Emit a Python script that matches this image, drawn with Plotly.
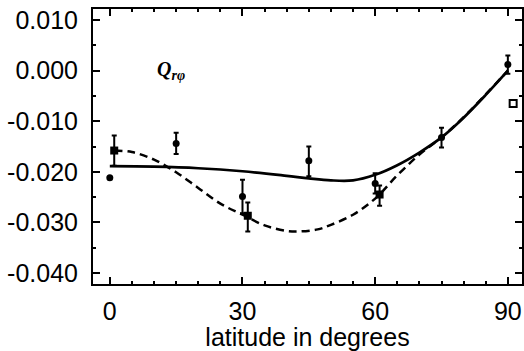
import plotly.graph_objects as go

# ---- data ----
circ_x = [0, 15, 30, 45, 60, 75, 90]
circ_y = [-0.0212, -0.0144, -0.0249, -0.0178, -0.0223, -0.0132, 0.0012]
circ_ep = [0, 0.0021, 0.0033, 0.0028, 0.0020, 0.0019, 0.0018]
circ_em = [0, 0.0021, 0.0033, 0.0031, 0.0020, 0.0020, 0.0018]

sq_x = [1, 31.2, 61]
sq_y = [-0.0158, -0.0287, -0.0245]
sq_ep = [0.0030, 0.0026, 0.0018]
sq_em = [0.0030, 0.0031, 0.0022]

open_x = [91.2]
open_y = [-0.0065]

solid_x = [0, 10, 20, 30, 40, 45, 50, 55, 60, 65, 70, 75, 80, 85, 90]
solid_y = [-0.0189, -0.0190, -0.0193, -0.0199, -0.0208, -0.0213, -0.0217, -0.0217,
           -0.0206, -0.0187, -0.0162, -0.0132, -0.0093, -0.0048, 0.0000]

dash_x = [1, 5, 10, 15, 20, 25, 30, 35, 40, 43, 47, 50, 55, 60, 65, 70, 75, 80, 85, 90]
dash_y = [-0.0158, -0.0161, -0.0176, -0.0201, -0.0232, -0.0263, -0.0285, -0.0306,
          -0.0317, -0.0318, -0.0314, -0.0305, -0.0285, -0.0253, -0.0207, -0.0166,
          -0.0132, -0.0092, -0.0047, 0.0000]

x_ticks = [0, 30, 60, 90]
y_ticks = [0.010, 0.000, -0.010, -0.020, -0.030, -0.040]
y_labels = ["0.010", "0.000", "-0.010", "-0.020", "-0.030", "-0.040"]

FONT = "Liberation Sans, Arial, Helvetica, sans-serif"

fig = go.Figure()
fig.add_trace(go.Scatter(x=solid_x, y=solid_y, mode="lines", line=dict(color="black", width=2.7, shape="spline"),
                         showlegend=False, hoverinfo="skip"))
fig.add_trace(go.Scatter(x=dash_x, y=dash_y, mode="lines",
                         line=dict(color="black", width=2.5, dash="8px,5px", shape="spline"),
                         showlegend=False, hoverinfo="skip"))
fig.add_trace(go.Scatter(x=circ_x, y=circ_y, mode="markers",
                         marker=dict(symbol="circle", size=7, color="black"),
                         error_y=dict(type="data", symmetric=False, array=circ_ep, arrayminus=circ_em,
                                      color="black", thickness=2, width=2.5),
                         showlegend=False))
fig.add_trace(go.Scatter(x=sq_x, y=sq_y, mode="markers",
                         marker=dict(symbol="square", size=8, color="black"),
                         error_y=dict(type="data", symmetric=False, array=sq_ep, arrayminus=sq_em,
                                      color="black", thickness=2, width=2.5),
                         showlegend=False))
fig.add_trace(go.Scatter(x=open_x, y=open_y, mode="markers", cliponaxis=False,
                         marker=dict(symbol="square-open", size=7, color="black", line=dict(width=2, color="black")),
                         showlegend=False))

fig.add_annotation(x=13.8, y=0.0000, xref="x", yref="y", showarrow=False,
                   text="<b><i>Q</i></b><sub><b><i>rφ</i></b></sub>",
                   font=dict(family="Liberation Serif, Times New Roman, serif", size=20, color="black"))

axis_common = dict(showline=True, linewidth=2, linecolor="black", mirror="allticks",
                   ticks="inside", tickwidth=1.5, tickcolor="black", ticklen=7,
                   showgrid=False, zeroline=False, automargin=False,
                   tickfont=dict(family=FONT, size=25, color="black"))

fig.update_xaxes(range=[-3.8, 93.2], tickvals=x_ticks, ticktext=[str(v) for v in x_ticks],
                 minor=dict(dtick=5, tick0=0, ticks="inside", ticklen=3, tickwidth=1.5, tickcolor="black", showgrid=False),
                 title=dict(text="latitude in degrees", font=dict(family=FONT, size=25, color="black"), standoff=0),
                 ticklabelstandoff=4,
                 **axis_common)
fig.update_yaxes(range=[-0.0422, 0.0122], tickvals=y_ticks, ticktext=y_labels,
                 minor=dict(dtick=0.005, tick0=0, ticks="inside", ticklen=3, tickwidth=1.5, tickcolor="black", showgrid=False),
                 ticklabelstandoff=8,
                 **axis_common)

fig.update_layout(width=524, height=351, margin=dict(l=93, r=2, t=9, b=67),
                  plot_bgcolor="white", paper_bgcolor="white")

fig.write_html("out.html", config={"displayModeBar": False},
               post_script="document.body.style.margin='0';document.body.style.overflow='hidden';")
